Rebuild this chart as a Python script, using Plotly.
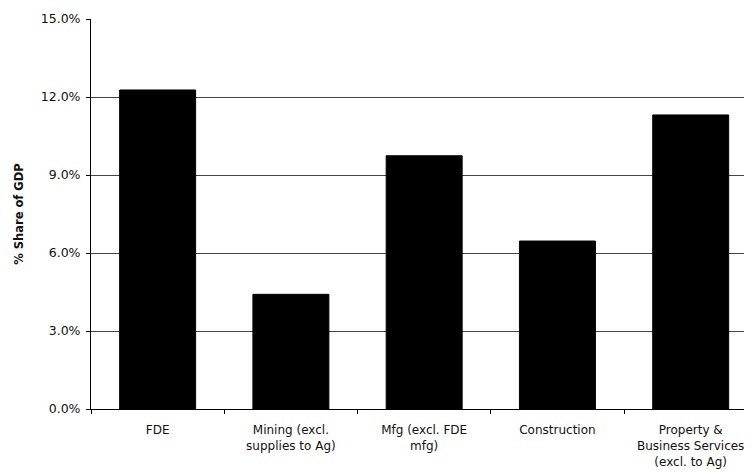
import plotly.graph_objects as go

categories = ["FDE", "Mining (excl.<br>supplies to Ag)", "Mfg (excl. FDE<br>mfg)",
              "Construction", "Property &<br>Business Services<br>(excl. to Ag)"]
shares = [12.27, 4.41, 9.74, 6.46, 11.31]
y_ticks = [0, 3, 6, 9, 12, 15]
y_tick_labels = ["0.0%", "3.0%", "6.0%", "9.0%", "12.0%", "15.0%"]

font = "DejaVu Sans, Arial, sans-serif"

fig = go.Figure(go.Bar(
    x=categories, y=shares,
    marker=dict(color="#000000", line=dict(color="#000000", width=1)),
    width=0.57,
))

fig.update_layout(
    width=744, height=464,
    margin=dict(l=83, r=0, t=11, b=62.5),
    paper_bgcolor="white", plot_bgcolor="white",
    showlegend=False,
    font=dict(family=font, size=12, color="#111111"),
)
fig.update_xaxes(
    type="category", range=[-0.5, 4.46],
    showline=True, linecolor="#000000", linewidth=1,
    ticks="outside", tickson="boundaries", ticklen=4, tickcolor="#000000",
    showgrid=False, ticklabelstandoff=10,
    tickfont=dict(size=12, family=font),
)
fig.update_yaxes(
    range=[0, 15], tickvals=y_ticks, ticktext=y_tick_labels,
    showline=True, linecolor="#000000", linewidth=1,
    ticks="outside", ticklen=4, tickcolor="#000000",
    showgrid=True, gridcolor="#444444", gridwidth=1,
    zeroline=False,
    tickfont=dict(size=12.5, family=font),
    title=dict(text="<b>% Share of GDP</b>",
               font=dict(size=11.5, family=font),
               standoff=14),
    ticklabelstandoff=3,
)

fig.write_html("out.html")
